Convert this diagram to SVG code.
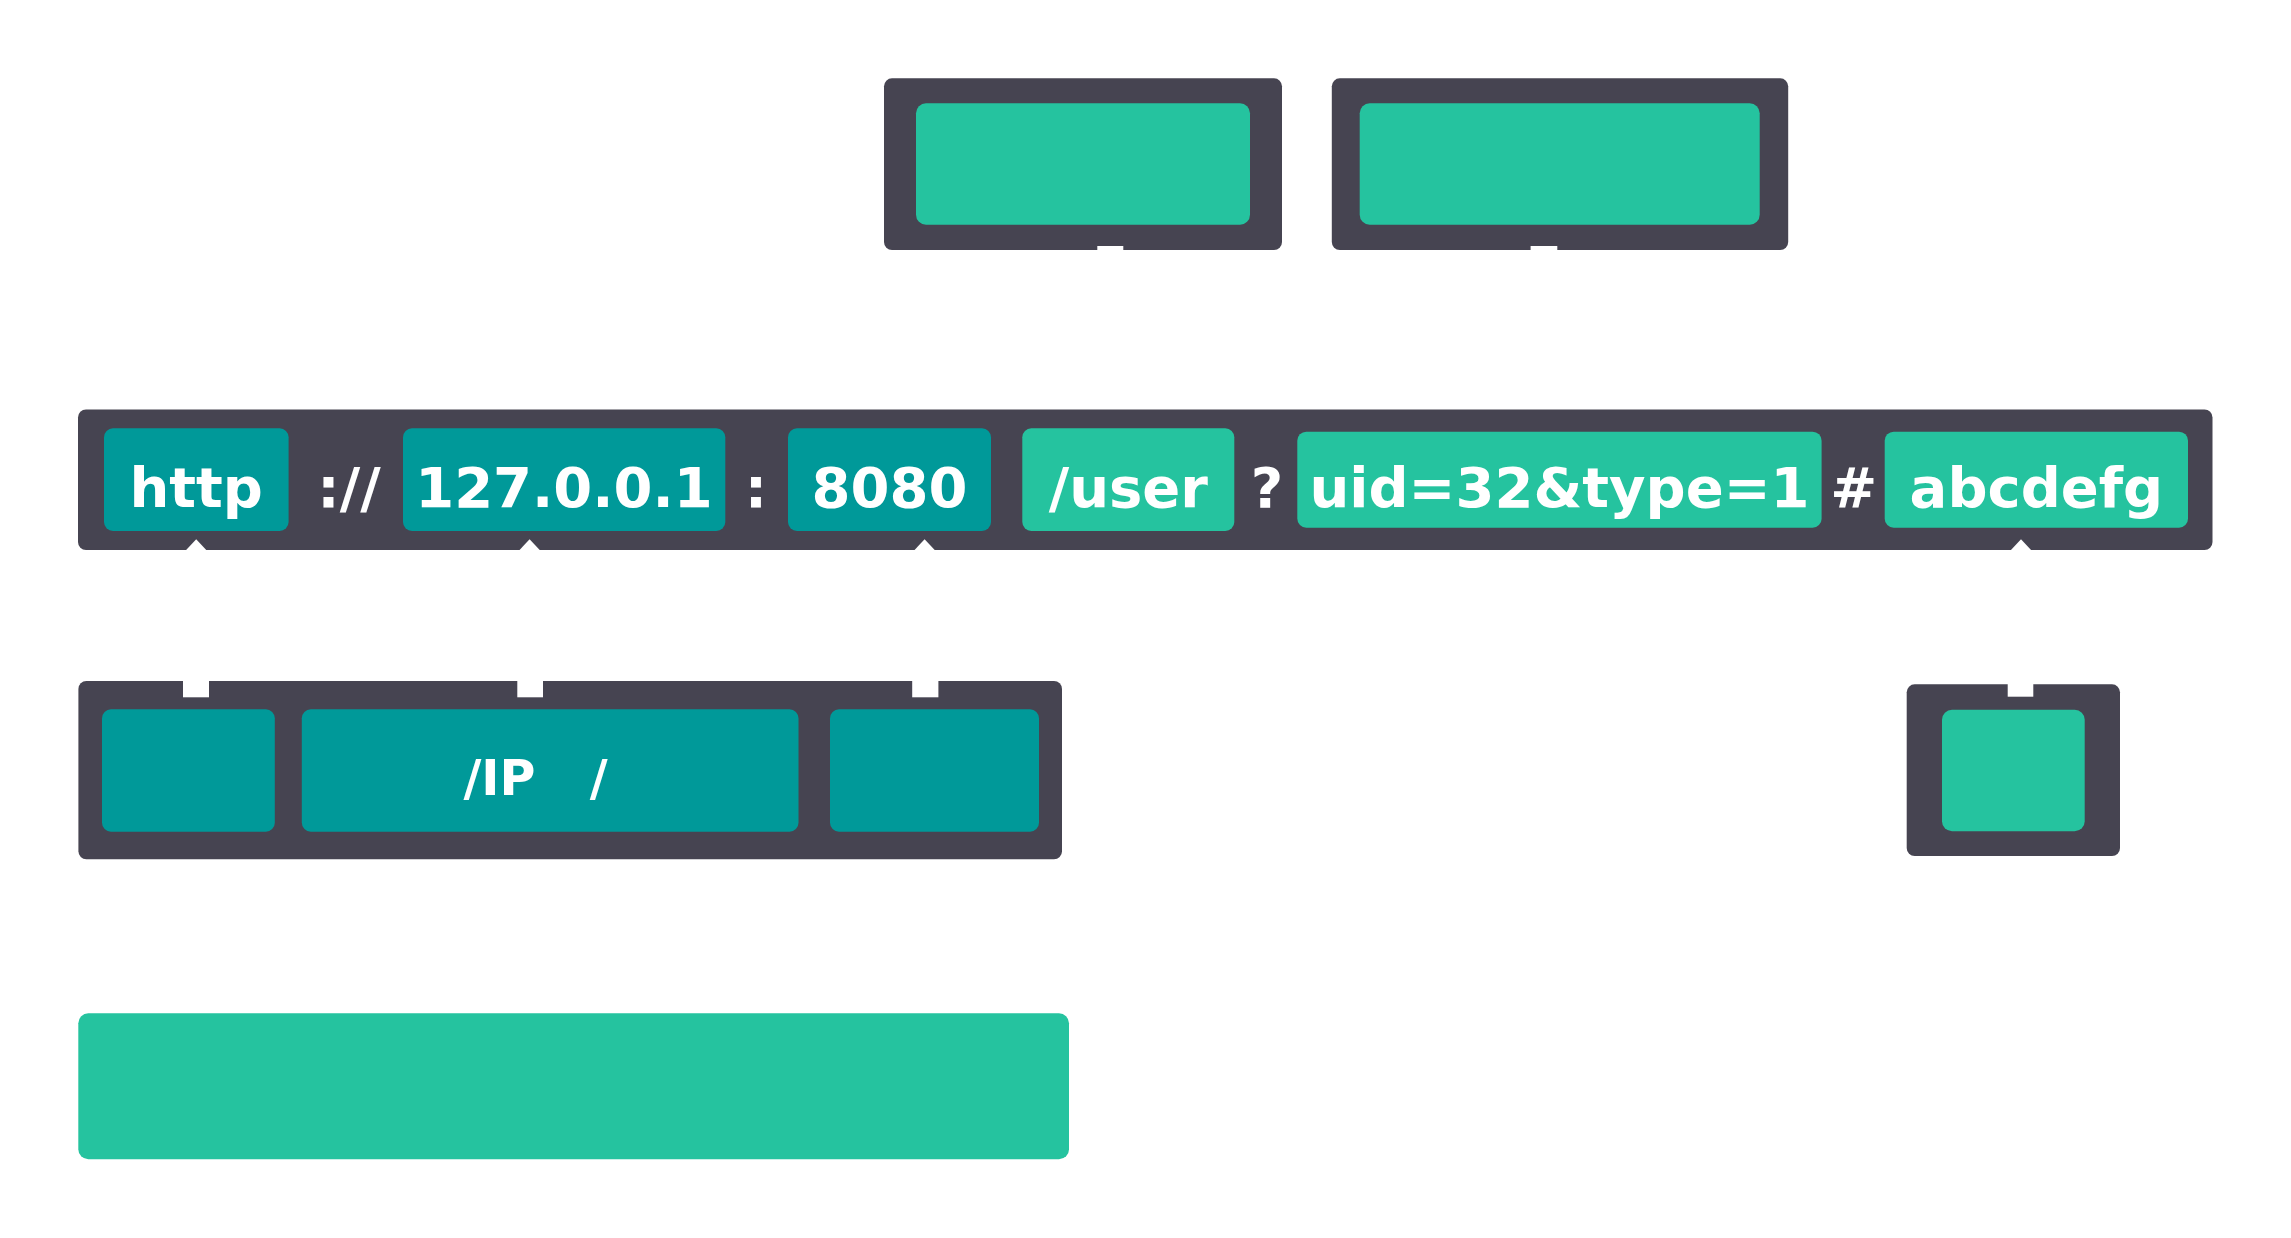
<svg xmlns="http://www.w3.org/2000/svg" width="2291" height="1238" viewBox="0 0 2291 1238">
  <style>
    .frame { fill: #464451; }
    .teal { fill: #009999; }
    .green { fill: #25C39F; }
    .lbl { font-family: "DejaVu Sans", "Noto Sans CJK SC", sans-serif; font-weight: bold; fill: #ffffff; text-anchor: middle; }
    .big { font-size: 56px; }
    .mid { font-size: 49px; }
    .cut { fill: #ffffff; }
  </style>
  <rect width="2291" height="1238" fill="#ffffff"/>

  <g id="node-top-left">
    <rect class="frame" x="884" y="78.3" width="398" height="171.7" rx="8"/>
    <rect class="green" x="916" y="103.3" width="334" height="121.4" rx="10"/>
  </g>
  <g id="node-top-right">
    <rect class="frame" x="1331.8" y="78.3" width="456.4" height="171.7" rx="8"/>
    <rect class="green" x="1359.7" y="103.3" width="400" height="121.4" rx="10"/>
  </g>

  <g id="node-url">
    <rect class="frame" x="78" y="409.5" width="2134.5" height="140.5" rx="8"/>
    <rect class="teal" x="104" y="428.3" width="184.6" height="102.7" rx="9"/>
    <rect class="teal" x="403" y="428.3" width="322.3" height="102.7" rx="9"/>
    <rect class="teal" x="788" y="428.3" width="203" height="102.7" rx="9"/>
    <rect class="green" x="1022.3" y="428.3" width="212" height="102.7" rx="9"/>
    <rect class="green" x="1297.3" y="431.7" width="524.3" height="96" rx="9"/>
    <rect class="green" x="1884.7" y="431.7" width="303.3" height="96" rx="9"/>
    <text class="lbl big" x="196.2" y="507.3">http</text>
    <text class="lbl big" x="349" y="507.3">://</text>
    <text class="lbl big" x="564" y="507.3">127.0.0.1</text>
    <text class="lbl big" x="756" y="507.3">:</text>
    <text class="lbl big" x="889.5" y="507.3">8080</text>
    <text class="lbl big" x="1128.3" y="507.3">/user</text>
    <text class="lbl big" x="1267" y="507.3">?</text>
    <text class="lbl big" x="1559.5" y="507.3">uid=32&amp;type=1</text>
    <text class="lbl big" x="1853.7" y="507.3">#</text>
    <text class="lbl big" x="2036.4" y="507.3">abcdefg</text>
  </g>

  <g id="node-host">
    <rect class="frame" x="78.4" y="681" width="983.6" height="178.3" rx="8"/>
    <rect class="teal" x="102" y="709.3" width="172.8" height="122.4" rx="9"/>
    <rect class="teal" x="301.8" y="709.3" width="496.7" height="122.4" rx="9"/>
    <rect class="teal" x="830" y="709.3" width="209" height="122.4" rx="9"/>
    <text class="lbl mid" x="499.5" y="795">/IP</text>
    <text class="lbl mid" x="598.7" y="795">/</text>
  </g>

  <g id="node-fragment">
    <rect class="frame" x="1906.7" y="684.3" width="213.3" height="171.7" rx="8"/>
    <rect class="green" x="1942" y="709.7" width="142.7" height="121.6" rx="10"/>
  </g>

  <g id="node-bottom">
    <rect class="green" x="78.3" y="1013.3" width="990.7" height="146" rx="10"/>
  </g>

  <g id="connectors">
    <rect class="cut" x="1097.3" y="246" width="26" height="5"/>
    <rect class="cut" x="1530.6" y="246" width="26.7" height="5"/>
    <polygon class="cut" points="185.2,551 196.2,539.3 207.2,551"/>
    <polygon class="cut" points="518.6,551 529.6,539.3 540.6,551"/>
    <polygon class="cut" points="913.6,551 924.6,539.3 935.6,551"/>
    <polygon class="cut" points="2010,551 2021,539.3 2032,551"/>
    <rect class="cut" x="183" y="680" width="26" height="17.3"/>
    <rect class="cut" x="517.3" y="680" width="25.7" height="17.3"/>
    <rect class="cut" x="912.2" y="680" width="26.2" height="17.3"/>
    <rect class="cut" x="2007.7" y="683.3" width="25.6" height="13.4"/>
  </g>
</svg>
